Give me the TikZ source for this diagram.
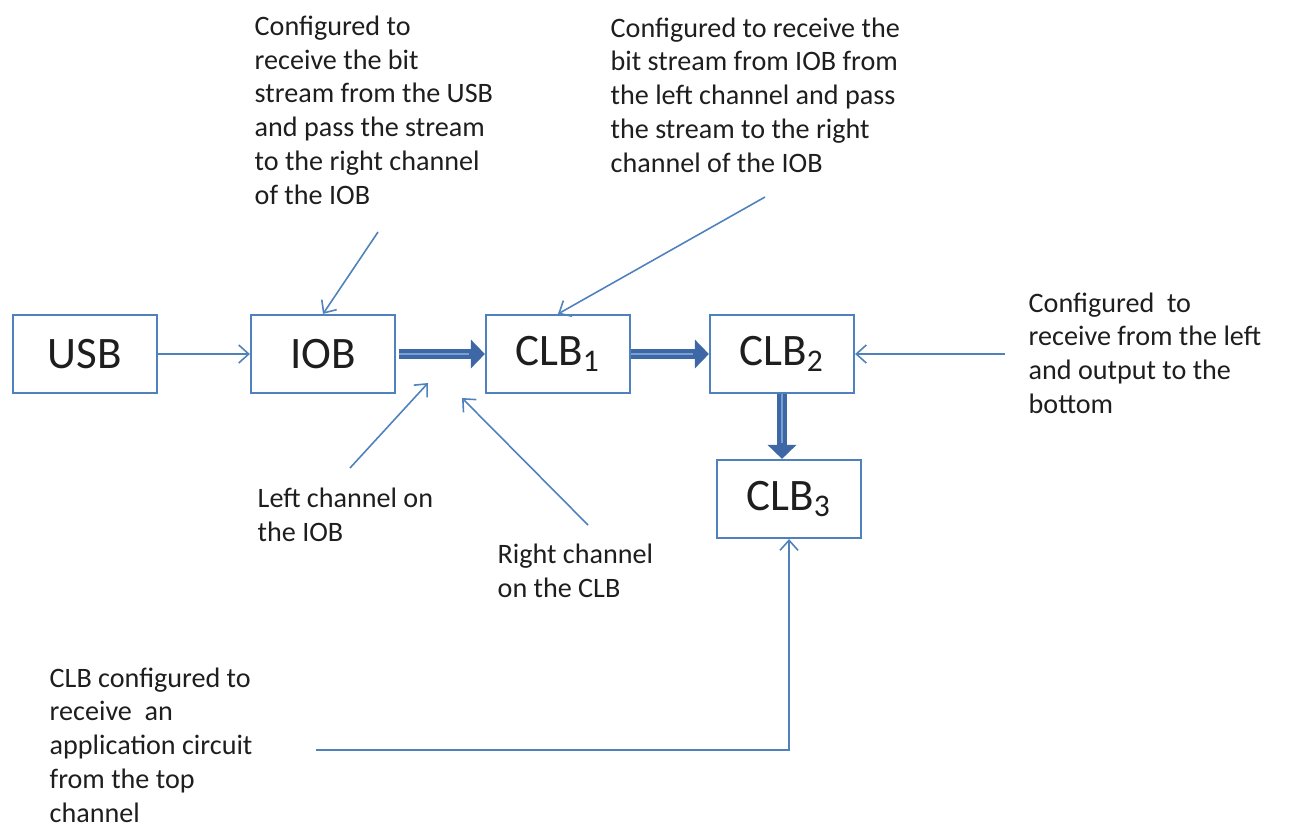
\documentclass[tikz,border=0pt]{standalone}
\usepackage{fontspec}
\setmainfont{Carlito}
\usepackage{xcolor}
\usepackage{tikz}
\usetikzlibrary{arrows.meta, positioning, calc}

\definecolor{boxblue}{RGB}{79,129,189}
\definecolor{flowblue}{RGB}{62,104,165}
\definecolor{flowshine}{RGB}{120,160,210}
\definecolor{txtgray}{RGB}{30,30,30}

\begin{document}
\begin{tikzpicture}[
    x=0.01cm,y=-0.01cm,
    >=Latex,
    font=\fontsize{8pt}{9.6pt}\selectfont,
    text=txtgray,
    block/.style={
        draw=boxblue, line width=0.6pt,
        minimum height=0.78cm,
        minimum width=1.44cm,
        inner sep=0pt,
        font=\fontsize{12.8pt}{14pt}\selectfont
    },
    note/.style={
        align=left, anchor=west,
        inner sep=0pt
    },
    sig/.style={-{Straight Barb[length=0.1cm,width=0.18cm]}, draw=boxblue, line width=0.45pt},
    flow/.style={
        -{Triangle[length=0.14cm,width=0.28cm]}, draw=flowblue, line width=2.8pt,
        postaction={draw=flowshine, line width=0.5pt, -, shorten >=0.16cm}
    }
]
\useasboundingbox (0,0) rectangle (1289,833);

% --- Blocks ---
\node[block] (usb) at (85,354) {USB};
\node[block] (iob) at (323,354) {IOB};
\node[block] (clb1) at (558,354) {CLB\textsubscript{1}};
\node[block] (clb2) at (782,354) {CLB\textsubscript{2}};
\node[block] (clb3) at (789,499) {CLB\textsubscript{3}};

% --- Notes ---
\node[note] (noteiob) at (254,110)
{Configured to\\receive the bit\\stream from the USB\\and pass the stream\\to the right channel\\of the IOB};

\node[note] (noteclb) at (610,95)
{Configured to receive the\\bit stream from IOB from\\the left channel and pass\\the stream to the right\\channel of the IOB};

\node[note] (noteout) at (1028,353)
{Configured~ to\\receive from the left\\and output to the\\bottom};

\node[note] (leftch) at (257,515)
{Left channel on\\the IOB};

\node[note] (rightch) at (497,571)
{Right channel\\on the CLB};

\node[note] (noteapp) at (49,745)
{CLB configured to\\receive~ an\\application circuit\\from the top\\channel};

% --- Free ends of the pointers ---
\coordinate (tapiob) at (378,232);
\coordinate (tapclb) at (765,197);
\coordinate (tapout) at (1005,354);
\coordinate (tapleft) at (350,468);
\coordinate (tipleft) at (428,383);
\coordinate (tapright) at (588,525);
\coordinate (tipright) at (462,398);
\coordinate (tapapp) at (316,750);

% --- Bit stream path ---
\draw[sig] (usb.east) -- (iob.west);
\draw[flow, shorten <=0.03cm] (iob.east) -- (clb1.west);
\draw[flow] (clb1.east) -- (clb2.west);
\draw[flow] (clb2.south) -- (clb2.south |- clb3.north);

% --- Pointers from the notes ---
\draw[sig] (tapiob) -- (iob.north);
\draw[sig] (tapclb) -- (clb1.north);
\draw[sig] (tapout) -- (clb2.east);
\draw[sig] (tapleft) -- (tipleft);
\draw[sig] (tapright) -- (tipright);
\draw[sig] (tapapp) -| (clb3.south);

\end{tikzpicture}
\end{document}
